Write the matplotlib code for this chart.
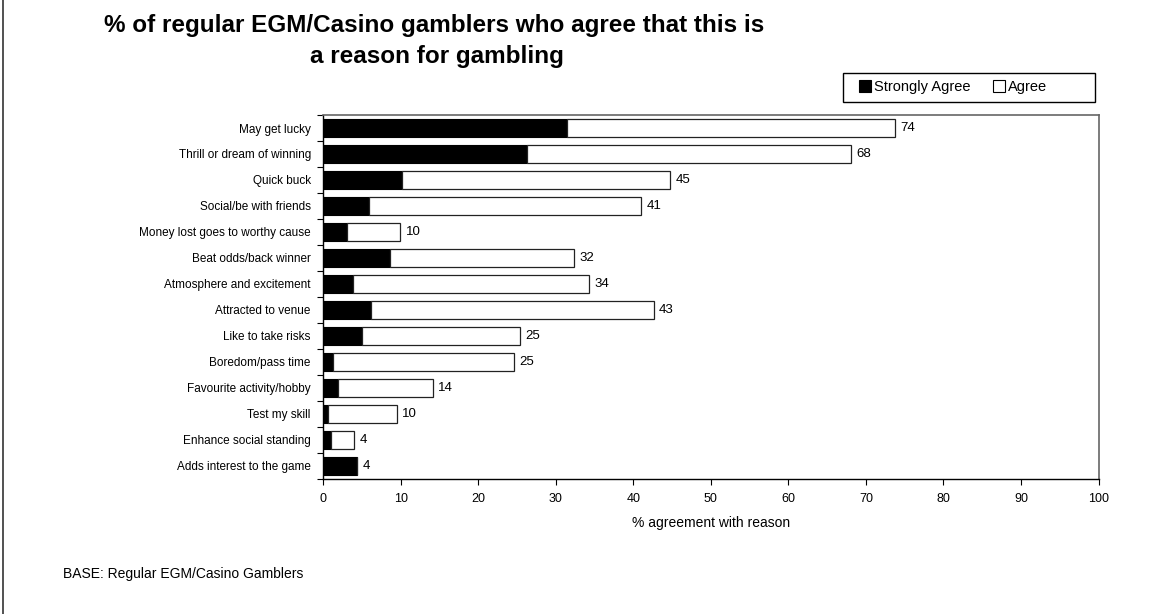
import numpy as np
import matplotlib.pyplot as plt
from matplotlib.lines import Line2D
from matplotlib.patches import Patch, Rectangle

plt.rcParams['font.family'] = ['Liberation Sans', 'DejaVu Sans']

reasons = ['May get lucky', 'Thrill or dream of winning', 'Quick buck',
           'Social/be with friends', 'Money lost goes to worthy cause',
           'Beat odds/back winner', 'Atmosphere and excitement',
           'Attracted to venue', 'Like to take risks', 'Boredom/pass time',
           'Favourite activity/hobby', 'Test my skill',
           'Enhance social standing', 'Adds interest to the game']
strongly_agree = [31.4, 26.3, 10.2, 5.9, 3.1, 8.6, 3.8, 6.2, 5.0, 1.3, 1.9, 0.6, 1.0, 4.4]
total_agree = [73.7, 68.1, 44.7, 41.0, 9.9, 32.3, 34.3, 42.6, 25.4, 24.6, 14.1, 9.5, 4.0, 4.4]
xticks = [0, 10, 20, 30, 40, 50, 60, 70, 80, 90, 100]

strong = np.array(strongly_agree)
total = np.array(total_agree)
agree = total - strong
y = np.arange(len(reasons))

fig = plt.figure(figsize=(11.55, 6.14), dpi=100)
ax = fig.add_axes([0.2799, 0.2199, 0.6712, 0.5928])

ax.barh(y, strong, height=0.71, color='black', edgecolor='black', linewidth=0.8)
ax.barh(y, agree, left=strong, height=0.71, color='white', edgecolor='#222222', linewidth=0.9)

# value labels at the end of each bar
for yi, t in zip(y, total):
    ax.text(t + 0.7, yi, f'{t:.0f}', va='center', ha='left', fontsize=9.5)

ax.set_xlim(0, 100)
ax.set_ylim(len(reasons) - 0.5, -0.5)
ax.set_xticks(xticks)
ax.set_yticks(y)
ax.set_yticklabels(reasons, fontsize=8.5)
ax.set_yticks(np.arange(len(reasons) + 1) - 0.5, minor=True)
ax.tick_params(axis='y', which='major', length=0, pad=9)
ax.tick_params(axis='y', which='minor', length=4, width=0.8, direction='out')
ax.tick_params(axis='x', length=4, width=0.8, direction='out', labelsize=9, pad=6)
ax.set_xlabel('% agreement with reason', fontsize=10, labelpad=8)

for side in ['left', 'bottom']:
    ax.spines[side].set_color('black')
    ax.spines[side].set_linewidth(1.0)
for side in ['top', 'right']:
    ax.spines[side].set_color('#666666')
    ax.spines[side].set_linewidth(1.2)

# legend box drawn separately, legend entries centred inside it
fig.add_artist(Rectangle((843 / 1155, 1 - 101.7 / 614), 252 / 1155, 29 / 614,
                         transform=fig.transFigure, facecolor='white',
                         edgecolor='black', linewidth=1.0))
handles = [Patch(facecolor='black', edgecolor='black', linewidth=0.8),
           Patch(facecolor='white', edgecolor='black', linewidth=0.8)]
fig.legend(handles, ['Strongly Agree', 'Agree'], ncol=2,
           loc='center', bbox_to_anchor=(953 / 1155, 1 - 87 / 614),
           borderaxespad=0, fontsize=10.5, frameon=False,
           handlelength=0.8, handleheight=0.8, handletextpad=0.2, columnspacing=1.6)

fig.text(434 / 1155, 1 - 32 / 614, '% of regular EGM/Casino gamblers who agree that this is',
         ha='center', va='baseline', fontsize=17.5, fontweight='bold')
fig.text(437 / 1155, 1 - 63 / 614, 'a reason for gambling',
         ha='center', va='baseline', fontsize=17.5, fontweight='bold')
fig.text(63 / 1155, 1 - 574 / 614, 'BASE: Regular EGM/Casino Gamblers',
         ha='left', va='center', fontsize=10)

fig.add_artist(Line2D([3 / 1155, 3 / 1155], [0, 1], transform=fig.transFigure,
                      color='#333333', linewidth=1.2))

plt.savefig('out.png', dpi=100)
